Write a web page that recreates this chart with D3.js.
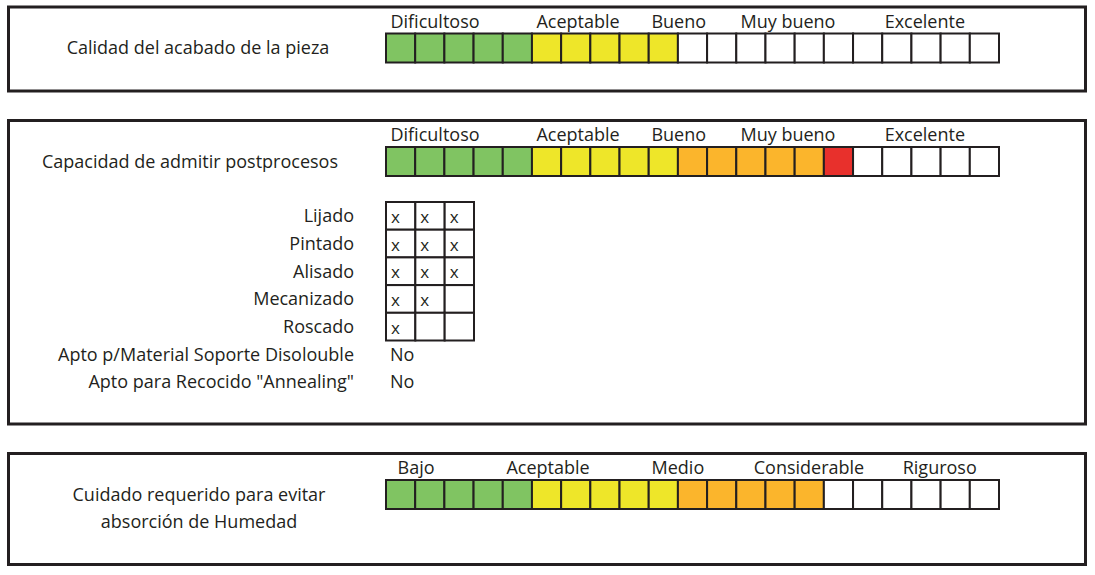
<!DOCTYPE html>
<html><head><meta charset="utf-8">
<script src="https://cdn.jsdelivr.net/npm/d3@7"></script>
<style>
html,body{margin:0;padding:0;background:#fff;}
svg text{font-family:"Open Sans",sans-serif;fill:#231f20;}
</style></head>
<body><svg id="c" width="1095" height="575"></svg>
<script>
// ---- data ----
const totalCells = 21;
const bandColors = ["#80c462", "#eee629", "#fbb52c", "#e8302c"];
const bandSize = 5;

const finishTitle = ["Calidad del acabado de la pieza"];
const finishLevels = ["Dificultoso", "Aceptable", "Bueno", "Muy bueno", "Excelente"];
const finishLevelAt = [1.68, 6.58, 10.03, 13.77, 18.46];
const finishValue = 10;

const postTitle = ["Capacidad de admitir postprocesos"];
const postLevels = ["Dificultoso", "Aceptable", "Bueno", "Muy bueno", "Excelente"];
const postLevelAt = [1.68, 6.58, 10.03, 13.77, 18.46];
const postValue = 16;

const processes = ["Lijado", "Pintado", "Alisado", "Mecanizado", "Roscado"];
const processMarks = [3, 3, 3, 2, 1];
const processCols = 3;
const extraLabels = ["Apto p/Material Soporte Disolouble", "Apto para Recocido \"Annealing\""];
const extraValues = ["No", "No"];

const humTitle = ["Cuidado requerido para evitar", "absorción de Humedad"];
const humLevels = ["Bajo", "Aceptable", "Medio", "Considerable", "Riguroso"];
const humLevelAt = [1.03, 5.55, 10.0, 14.49, 18.97];
const humValue = 15;

// ---- drawing ----
const svg = d3.select("#c");
const dark = "#231f20";
const fs = 18;

const xCell = d3.scaleBand().domain(d3.range(totalCells)).range([386, 999]);
const xUnit = d3.scaleLinear().domain([0, totalCells]).range([386, 999]);
const cellColor = (i, v) => i < v ? bandColors[Math.min(Math.floor(i / bandSize), bandColors.length - 1)] : "#ffffff";

const panels = [
  {y0: 7, y1: 91, barTop: 33.5, title: finishTitle, titleX: 198, titleY: 48, levels: finishLevels, at: finishLevelAt, value: finishValue},
  {y0: 120.5, y1: 424, barTop: 147, title: postTitle, titleX: 190, titleY: 162, levels: postLevels, at: postLevelAt, value: postValue},
  {y0: 453.5, y1: 564.5, barTop: 480, title: humTitle, titleX: 199, titleY: 495, levels: humLevels, at: humLevelAt, value: humValue}
];
const barH = 29;

panels.forEach(p => {
  const g = svg.append("g");
  g.append("rect").attr("x", 8.5).attr("y", p.y0).attr("width", 1077).attr("height", p.y1 - p.y0)
    .attr("fill", "none").attr("stroke", dark).attr("stroke-width", 3);
  g.selectAll("text.title").data(p.title).join("text").attr("class", "title")
    .attr("x", p.titleX).attr("y", (d, i) => p.titleY + i * 27).attr("dy", "0.35em")
    .attr("text-anchor", "middle").attr("font-size", fs).text(d => d);
  g.selectAll("text.lvl").data(p.levels).join("text").attr("class", "lvl")
    .attr("x", (d, i) => xUnit(p.at[i])).attr("y", p.barTop - 12).attr("dy", "0.35em")
    .attr("text-anchor", "middle").attr("font-size", fs).text(d => d);
  g.selectAll("rect.cell").data(d3.range(totalCells)).join("rect").attr("class", "cell")
    .attr("x", d => xCell(d)).attr("y", p.barTop).attr("width", xCell.bandwidth()).attr("height", barH)
    .attr("fill", d => cellColor(d, p.value)).attr("stroke", dark).attr("stroke-width", 2);
});

// process grid
const rowLabels = processes.concat(extraLabels);
const yRow = d3.scaleBand().domain(d3.range(rowLabels.length)).range([202, 202 + 27.7 * rowLabels.length]);
const xCol = d3.scaleBand().domain(d3.range(processCols)).range([386, 474]);

svg.selectAll("text.row").data(rowLabels).join("text").attr("class", "row")
  .attr("x", 354).attr("y", (d, i) => yRow(i) + yRow.bandwidth() / 2).attr("dy", "0.35em")
  .attr("text-anchor", "end").attr("font-size", fs).text(d => d);

const gridCells = [];
processes.forEach((p, r) => d3.range(processCols).forEach(c => gridCells.push({r, c, on: c < processMarks[r]})));
svg.selectAll("rect.gc").data(gridCells).join("rect").attr("class", "gc")
  .attr("x", d => xCol(d.c)).attr("y", d => yRow(d.r)).attr("width", xCol.bandwidth()).attr("height", yRow.bandwidth())
  .attr("fill", "#fff").attr("stroke", dark).attr("stroke-width", 2);
svg.selectAll("text.mark").data(gridCells.filter(d => d.on)).join("text").attr("class", "mark")
  .attr("x", d => xCol(d.c) + 5).attr("y", d => yRow(d.r) + yRow.bandwidth() / 2 + 1).attr("dy", "0.35em")
  .attr("font-size", fs - 1).text("x");

svg.selectAll("text.extra").data(extraValues).join("text").attr("class", "extra")
  .attr("x", 390).attr("y", (d, i) => yRow(processes.length + i) + yRow.bandwidth() / 2).attr("dy", "0.35em")
  .attr("font-size", fs).text(d => d);
</script></body></html>
